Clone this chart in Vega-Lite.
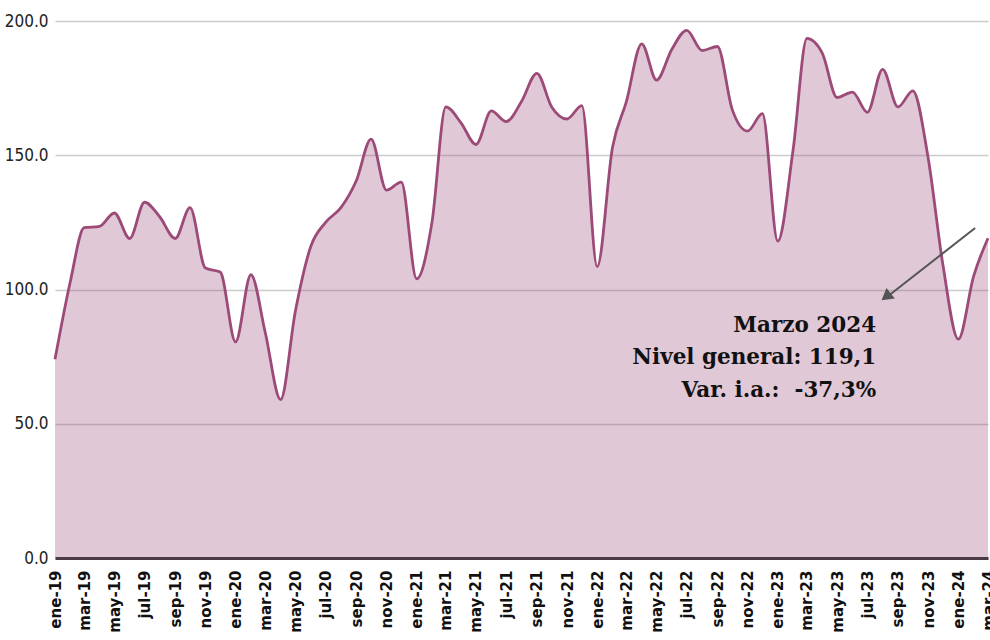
{
  "$schema": "https://vega.github.io/schema/vega-lite/v6.json",
  "width": 933,
  "height": 537,
  "autosize": {"type": "none"},
  "padding": {"left": 55, "top": 21, "right": 2, "bottom": 82},
  "background": "#ffffff",
  "config": {"view": {"stroke": null}},
  "layer": [
    {
      "data": {"values": [
        {"fecha": "2019-01-01", "valor": 74},
        {"fecha": "2019-02-01", "valor": 103},
        {"fecha": "2019-03-01", "valor": 123},
        {"fecha": "2019-04-01", "valor": 123.5},
        {"fecha": "2019-05-01", "valor": 128.5},
        {"fecha": "2019-06-01", "valor": 119},
        {"fecha": "2019-07-01", "valor": 132.5},
        {"fecha": "2019-08-01", "valor": 127},
        {"fecha": "2019-09-01", "valor": 119},
        {"fecha": "2019-10-01", "valor": 130.5},
        {"fecha": "2019-11-01", "valor": 108},
        {"fecha": "2019-12-01", "valor": 106.5},
        {"fecha": "2020-01-01", "valor": 80.5},
        {"fecha": "2020-02-01", "valor": 105.5},
        {"fecha": "2020-03-01", "valor": 84},
        {"fecha": "2020-04-01", "valor": 59},
        {"fecha": "2020-05-01", "valor": 92},
        {"fecha": "2020-06-01", "valor": 116},
        {"fecha": "2020-07-01", "valor": 125},
        {"fecha": "2020-08-01", "valor": 130.5},
        {"fecha": "2020-09-01", "valor": 140.5},
        {"fecha": "2020-10-01", "valor": 156},
        {"fecha": "2020-11-01", "valor": 137},
        {"fecha": "2020-12-01", "valor": 140},
        {"fecha": "2021-01-01", "valor": 104},
        {"fecha": "2021-02-01", "valor": 125},
        {"fecha": "2021-03-01", "valor": 168},
        {"fecha": "2021-04-01", "valor": 162},
        {"fecha": "2021-05-01", "valor": 154},
        {"fecha": "2021-06-01", "valor": 166.5},
        {"fecha": "2021-07-01", "valor": 162.5},
        {"fecha": "2021-08-01", "valor": 170},
        {"fecha": "2021-09-01", "valor": 180.5},
        {"fecha": "2021-10-01", "valor": 168},
        {"fecha": "2021-11-01", "valor": 163.5},
        {"fecha": "2021-12-01", "valor": 168.5},
        {"fecha": "2022-01-01", "valor": 108.5},
        {"fecha": "2022-02-01", "valor": 153},
        {"fecha": "2022-03-01", "valor": 170},
        {"fecha": "2022-04-01", "valor": 191.5},
        {"fecha": "2022-05-01", "valor": 178},
        {"fecha": "2022-06-01", "valor": 189.5},
        {"fecha": "2022-07-01", "valor": 196.5},
        {"fecha": "2022-08-01", "valor": 189},
        {"fecha": "2022-09-01", "valor": 190.5},
        {"fecha": "2022-10-01", "valor": 167},
        {"fecha": "2022-11-01", "valor": 159},
        {"fecha": "2022-12-01", "valor": 165.5},
        {"fecha": "2023-01-01", "valor": 118},
        {"fecha": "2023-02-01", "valor": 152},
        {"fecha": "2023-03-01", "valor": 193.5},
        {"fecha": "2023-04-01", "valor": 188},
        {"fecha": "2023-05-01", "valor": 171.5},
        {"fecha": "2023-06-01", "valor": 173.5},
        {"fecha": "2023-07-01", "valor": 166},
        {"fecha": "2023-08-01", "valor": 182},
        {"fecha": "2023-09-01", "valor": 168},
        {"fecha": "2023-10-01", "valor": 174},
        {"fecha": "2023-11-01", "valor": 149},
        {"fecha": "2023-12-01", "valor": 109},
        {"fecha": "2024-01-01", "valor": 81.5},
        {"fecha": "2024-02-01", "valor": 105},
        {"fecha": "2024-03-01", "valor": 119.1}
      ]},
      "mark": {
        "type": "area",
        "interpolate": "monotone",
        "color": "#9c4a78",
        "fillOpacity": 0.3,
        "line": {"color": "#9c4a78", "strokeWidth": 2.8}
      },
      "encoding": {
        "x": {
          "field": "fecha",
          "type": "temporal",
          "scale": {"type": "utc", "nice": false},
          "axis": {
            "title": null,
            "grid": false,
            "ticks": false,
            "tickSize": 0,
            "domain": true,
            "domainColor": "#4b3b47",
            "domainWidth": 3,
            "zindex": 1,
            "tickCount": {"interval": "month", "step": 2},
            "labelExpr": "['ene','feb','mar','abr','may','jun','jul','ago','sep','oct','nov','dic'][utcmonth(datum.value)] + '-' + utcFormat(datum.value, '%y')",
            "labelAngle": -90,
            "labelAlign": "right",
            "labelBaseline": "middle",
            "labelPadding": 12,
            "labelOverlap": false,
            "labelBound": false,
            "labelFlush": false,
            "labelFont": "DejaVu Sans",
            "labelFontWeight": "bold",
            "labelFontSize": 15,
            "labelColor": "#111111"
          }
        },
        "y": {
          "field": "valor",
          "type": "quantitative",
          "scale": {"domain": [0, 200], "nice": false},
          "axis": {
            "title": null,
            "values": [0, 50, 100, 150, 200],
            "format": ".1f",
            "domain": false,
            "ticks": false,
            "tickSize": 0,
            "labelPadding": 7,
            "labelFont": "Liberation Sans Narrow, DejaVu Sans Condensed, Liberation Sans, sans-serif",
            "labelFontSize": 17,
            "labelColor": "#222222",
            "gridColor": "#cccccc",
            "gridWidth": 1.5
          }
        }
      }
    },
    {
      "data": {"values": [
        {"x1": "2024-02-04", "y1": 122.9, "x2": "2023-08-09", "y2": 97.1}
      ]},
      "mark": {"type": "rule", "color": "#555555", "strokeWidth": 2},
      "encoding": {
        "x": {"field": "x1", "type": "temporal"},
        "y": {"field": "y1", "type": "quantitative"},
        "x2": {"field": "x2"},
        "y2": {"field": "y2"}
      }
    },
    {
      "data": {"values": [
        {"x": "2023-08-08", "y": 97.3}
      ]},
      "mark": {"type": "point", "shape": "triangle-up", "filled": true, "color": "#555555", "size": 180, "angle": 231.6, "opacity": 1},
      "encoding": {
        "x": {"field": "x", "type": "temporal"},
        "y": {"field": "y", "type": "quantitative"}
      }
    },
    {
      "data": {"values": [
        {"x": "2023-07-19", "y": 84.2, "texto": "Marzo 2024"},
        {"x": "2023-07-19", "y": 72.3, "texto": "Nivel general: 119,1"},
        {"x": "2023-07-19", "y": 60.0, "texto": "Var. i.a.:\u00a0 -37,3%"}
      ]},
      "mark": {"type": "text", "align": "right", "baseline": "alphabetic", "font": "DejaVu Serif", "fontWeight": "bold", "fontSize": 21.5, "color": "#111111"},
      "encoding": {
        "x": {"field": "x", "type": "temporal"},
        "y": {"field": "y", "type": "quantitative"},
        "text": {"field": "texto"}
      }
    }
  ]
}
